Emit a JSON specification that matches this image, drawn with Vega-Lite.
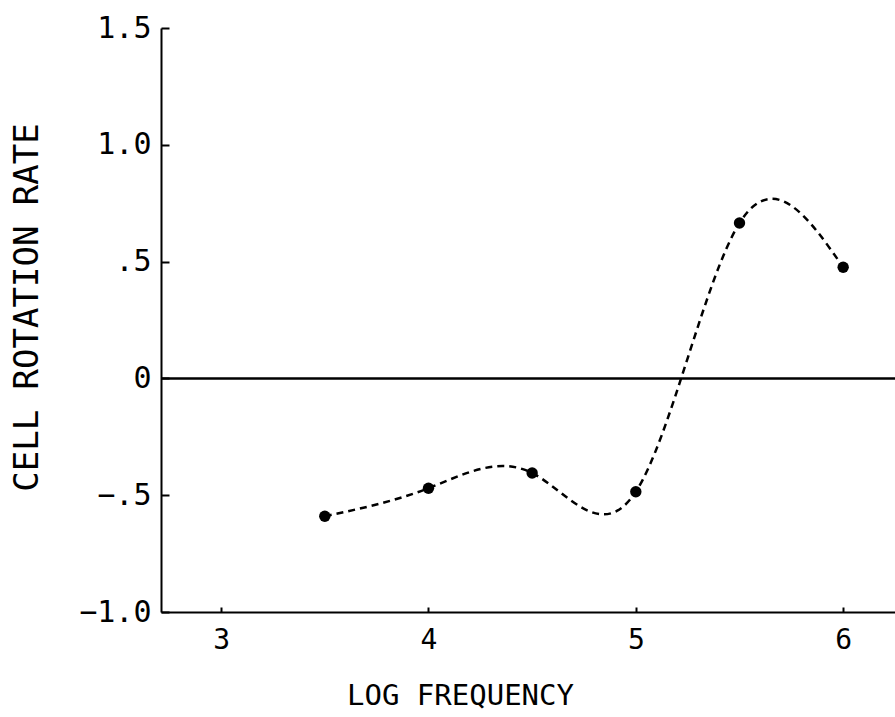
{
  "$schema": "https://vega.github.io/schema/vega-lite/v6.json",
  "width": 734,
  "height": 584,
  "autosize": {"type": "none"},
  "padding": {"left": 161, "top": 28, "right": 0, "bottom": 105},
  "background": "white",
  "config": {
    "view": {"stroke": null},
    "font": "DejaVu Sans Mono",
    "axis": {
      "grid": false,
      "domainColor": "black",
      "domainWidth": 2,
      "tickColor": "black",
      "tickWidth": 2,
      "labelColor": "black",
      "titleColor": "black",
      "labelFont": "DejaVu Sans Mono",
      "titleFont": "DejaVu Sans Mono",
      "labelFontWeight": "normal",
      "titleFontWeight": "normal"
    }
  },
  "data": {
    "values": [
      {"freq": 3.5, "rate": -0.59},
      {"freq": 4.0, "rate": -0.47},
      {"freq": 4.5, "rate": -0.405},
      {"freq": 5.0, "rate": -0.485},
      {"freq": 5.5, "rate": 0.665},
      {"freq": 6.0, "rate": 0.476}
    ]
  },
  "layer": [
    {
      "data": {"values": [{"y": 0}]},
      "mark": {"type": "rule", "color": "black", "strokeWidth": 2.5},
      "encoding": {"y": {"field": "y", "type": "quantitative"}}
    },
    {
      "mark": {"type": "line", "interpolate": "natural", "color": "black", "strokeWidth": 2.5, "strokeDash": [7, 5]},
      "encoding": {
        "x": {"field": "freq", "type": "quantitative"},
        "y": {"field": "rate", "type": "quantitative"}
      }
    },
    {
      "mark": {"type": "point", "filled": true, "color": "black", "opacity": 1, "size": 130},
      "encoding": {
        "x": {
          "field": "freq",
          "type": "quantitative",
          "scale": {"domain": [2.71, 6.25], "nice": false, "zero": false},
          "axis": {
            "title": "LOG FREQUENCY",
            "values": [3, 4, 5, 6],
            "format": "d",
            "tickSize": -5,
            "labelPadding": 19,
            "labelFontSize": 28,
            "titleFontSize": 29,
            "titleX": 299,
            "titleY": 69,
            "titleAnchor": "middle",
            "titleAlign": "center"
          }
        },
        "y": {
          "field": "rate",
          "type": "quantitative",
          "scale": {"domain": [-1, 1.5], "nice": false, "zero": false},
          "axis": {
            "title": "CELL ROTATION RATE",
            "values": [-1, -0.5, 0, 0.5, 1, 1.5],
            "labelExpr": "datum.value == 0 ? '0' : replace(format(datum.value, '.1f'), '0.', '.')",
            "tickSize": -8,
            "labelPadding": 18,
            "labelFontSize": 30,
            "titleFontSize": 34,
            "titleX": -134,
            "titleY": 279,
            "titleAngle": -90,
            "titleAnchor": "middle",
            "titleAlign": "center",
            "titleBaseline": "middle"
          }
        }
      }
    }
  ]
}
